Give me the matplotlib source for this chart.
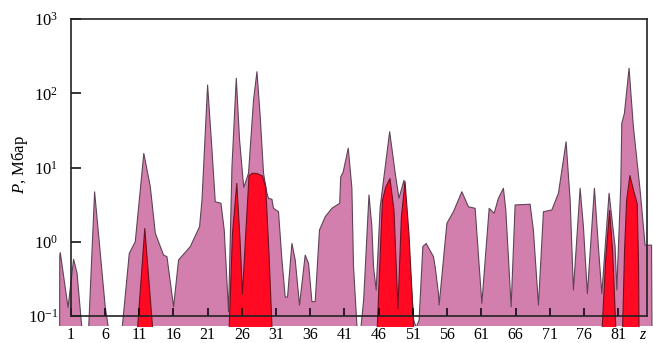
import matplotlib
matplotlib.use("Agg")
import matplotlib.pyplot as plt
import numpy as np
from matplotlib.patches import Rectangle

plt.rcParams["font.family"] = ["Liberation Serif", "DejaVu Serif"]
plt.rcParams["mathtext.fontset"] = "custom"
plt.rcParams["mathtext.rm"] = "Liberation Serif"
plt.rcParams["mathtext.it"] = "Liberation Serif:italic"
plt.rcParams["mathtext.bf"] = "Liberation Serif:bold"

# envelope of pressure along z (outer, pink)
pink_z = [-0.62, -0.6, -0.52, 0.61, 1.42, 1.92, 2.65, 3.0, 3.61, 4.49, 6.05, 6.49, 7.3, 8.49,
          9.56, 10.43, 11.68, 12.63, 13.36, 14.57, 15.06, 16.03, 16.76, 18.47, 19.83, 20.18,
          21.0, 21.64, 22.12, 22.95, 23.43, 24.06, 24.56, 25.19, 25.67, 26.28, 26.98, 27.71,
          28.21, 28.69, 29.17, 29.67, 29.9, 30.4, 30.63, 31.36, 31.86, 32.34, 32.68, 33.32,
          33.8, 34.43, 35.26, 35.75, 36.24, 36.72, 37.35, 38.18, 39.16, 40.3, 40.45, 40.81,
          41.55, 42.08, 42.32, 42.81, 43.2, 43.44, 43.8, 44.58, 45.0, 45.24, 45.63, 46.22,
          47.6, 48.41, 48.96, 49.69, 50.6, 51.11, 51.47, 51.9, 52.45, 52.93, 54.0, 54.25,
          54.73, 54.83, 55.96, 56.92, 58.15, 59.11, 60.09, 61.07, 62.14, 62.87, 63.49, 64.22,
          64.57, 65.35, 65.93, 68.12, 68.6, 69.34, 70.07, 71.3, 72.26, 73.38, 73.97, 74.45,
          75.43, 75.91, 76.49, 77.52, 78.1, 78.6, 79.66, 80.54, 80.79, 81.37, 81.52, 81.9,
          82.58, 83.21, 84.19, 84.92, 85.87, 85.94]
pink_p = [0.04, 0.65, 0.71, 0.13, 0.58, 0.38, 0.065, 0.045, 0.065, 4.7, 0.13, 0.071, 0.045, 0.065,
          0.70, 1.0, 15.5, 5.5, 1.3, 0.66, 0.63, 0.133, 0.57, 0.86, 1.6, 3.65,
          129, 17.2, 3.46, 3.3, 1.44, 0.114, 10.3, 159, 23.4, 5.4, 8.35, 81,
          195, 48, 8.4, 4.5, 3.85, 3.73, 2.82, 2.54, 0.57, 0.18, 0.18, 0.95,
          0.57, 0.14, 0.66, 0.51, 0.156, 0.156, 1.44, 2.17, 2.82, 3.3, 7.45, 8.7,
          18.2, 5.3, 0.46, 0.076, 0.045, 0.076, 0.164, 4.27, 1.6, 0.46, 0.224, 2.96,
          30.3, 8.4, 3.85, 6.7, 0.46, 0.088, 0.07, 0.088, 0.86, 0.95, 0.63, 0.46,
          0.20, 0.14, 1.77, 2.54, 4.72, 2.96, 2.82, 0.148, 2.82, 2.42, 3.85, 5.25,
          2.68, 0.133, 3.13, 3.2, 1.44, 0.14, 2.54, 2.68, 4.5, 22.2, 3.65, 0.224,
          5.25, 1.6, 0.20, 5.25, 0.86, 0.20, 4.5, 0.86, 0.224, 5.8, 39.4, 53.7,
          217, 35.5, 4.98, 0.90, 0.90, 0.04]

# inner profile (red), separate lobes
red_z = [10.58, 11.75, 13.02,
         24.02, 24.56, 25.19, 25.67, 26.02, 26.5, 26.98, 27.48, 28.21, 28.94, 29.42, 29.9, 30.4,
         45.65, 46.47, 46.95, 47.57, 48.16, 48.74, 49.24, 49.77, 50.35, 50.99, 51.04,
         78.5, 79.08, 79.66, 80.1, 80.64,
         81.52, 81.85, 82.15, 82.63, 83.17, 83.7, 83.9, 83.97]
red_p = [0.05, 1.53, 0.05,
         0.05, 1.3, 6.2, 1.06, 0.20, 1.3, 7.9, 8.5, 8.4, 7.8, 5.5, 0.70, 0.05,
         0.05, 3.65, 5.5, 7.2, 2.68, 0.127, 2.17, 6.6, 1.3, 0.088, 0.05,
         0.05, 0.57, 2.68, 0.77, 0.05,
         0.05, 0.77, 3.65, 7.9, 4.98, 3.3, 0.46, 0.05]

p_floor = 0.074
x_ticks = list(range(1, 82, 5))

fig = plt.figure(figsize=(6.53, 3.43), dpi=100)
ax = fig.add_axes([0.1083, 0.0787, 0.8825, 0.8659])
ax.set_yscale("log")
ax.set_xlim(1, 85.2)
ax.set_ylim(0.1, 1000)

# fills run a little past the frame, down to p_floor
for zz, pp, fc, ec in [(pink_z, pink_p, "#d37fad", "#5e4456"),
                       (red_z, red_p, "#ff0a22", "#701020")]:
    coll = ax.fill_between(zz, 1e-3, pp, facecolor=fc, edgecolor=ec, linewidth=0.8)
    coll.set_clip_path(Rectangle((-5, p_floor), 100, 1e5, transform=ax.transData))

for s in ax.spines.values():
    s.set_linewidth(1.2)
    s.set_color("#222222")

ax.set_yticks([0.1, 1, 10, 100, 1000])
ax.yaxis.set_minor_locator(matplotlib.ticker.NullLocator())
ax.set_xticks(x_ticks + [84.6])
ax.set_xticklabels([str(t) for t in x_ticks] + ["$z$"])
ax.xaxis.get_major_ticks()[-1].tick1line.set_visible(False)
ax.tick_params(axis="x", direction="in", length=6, width=1.1, pad=8, labelsize=11.5)
ax.tick_params(axis="y", direction="in", length=7, width=1.1, pad=9, labelsize=12)

ax.set_ylabel("$P$, Мбар", fontsize=12)
ax.yaxis.set_label_coords(-0.07, 0.51)

fig.savefig("out.png", dpi=100)
plt.close(fig)
